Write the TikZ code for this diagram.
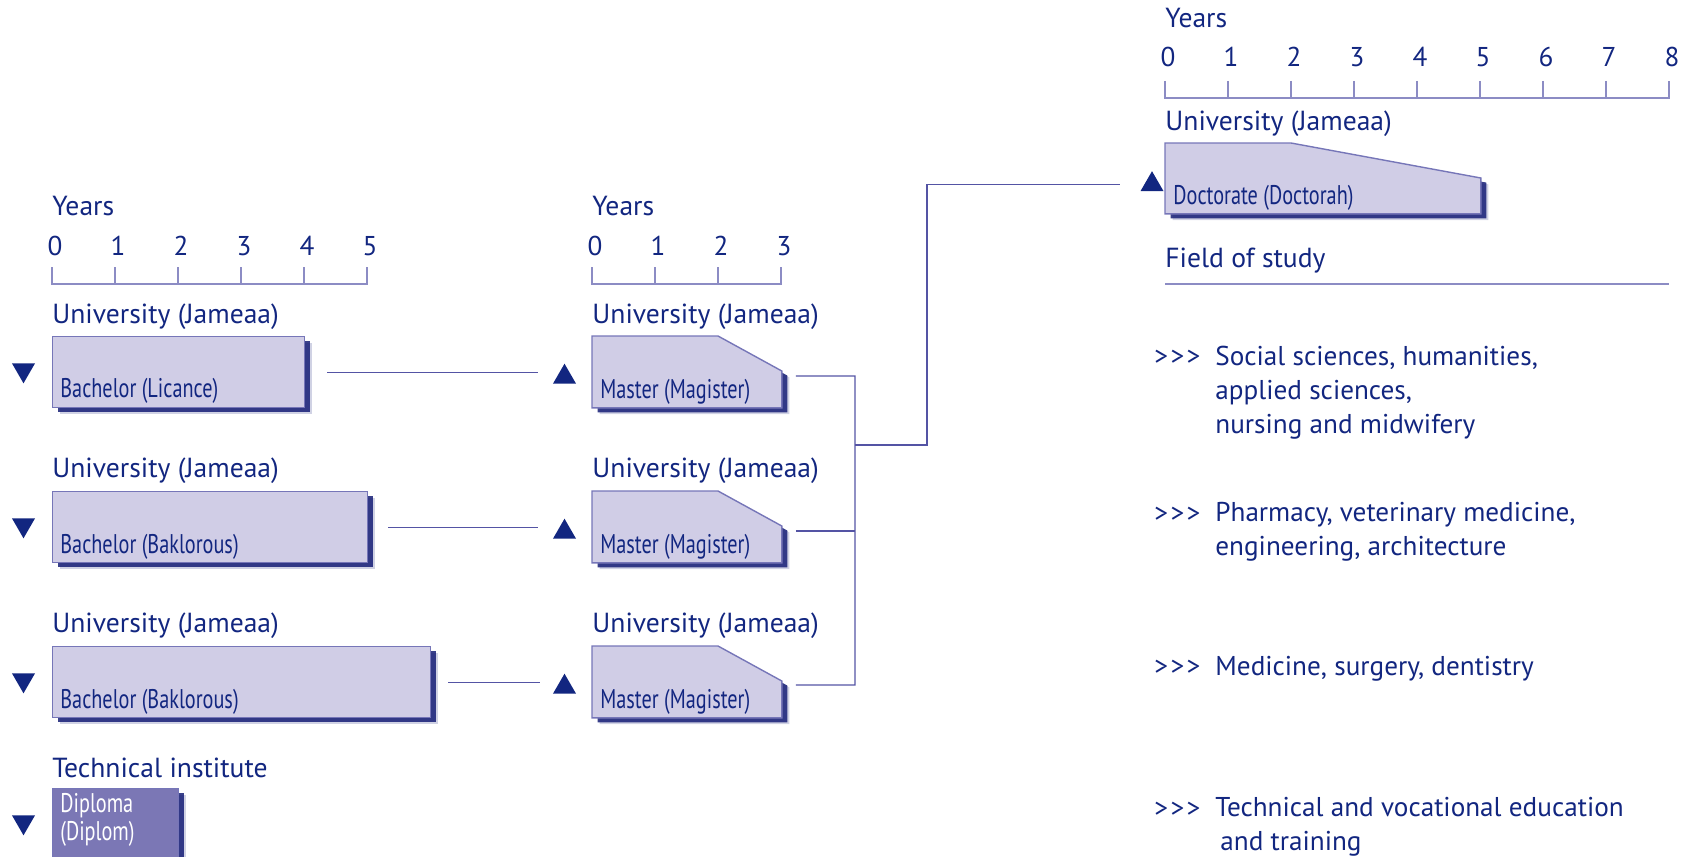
\documentclass[tikz,border=0pt]{standalone}
\usepackage{fontspec}
\setmainfont{PT Sans}
\newfontfamily\narrowfont[FakeStretch=0.75]{PT Sans}
\usetikzlibrary{shapes.geometric,shadows}

\definecolor{inkblue}{RGB}{18,38,128}
\definecolor{boxfill}{RGB}{208,205,230}
\definecolor{boxline}{RGB}{118,118,184}
\definecolor{diplfill}{RGB}{123,119,181}
\definecolor{shadowblue}{RGB}{22,30,118}
\definecolor{rulecol}{RGB}{140,140,196}
\definecolor{linkcol}{RGB}{84,84,164}

\newcommand{\arrs}{{>}\kern1.2pt{>}\kern1.2pt{>}}

\tikzset{
	lbl/.style={anchor=base west, inner sep=0pt, text=inkblue, font=\fontsize{13.8}{17}\selectfont},
	num/.style={anchor=base, inner sep=0pt, text=inkblue, font=\fontsize{13.6}{17}\selectfont},
	item/.style={anchor=base west, inner sep=0pt, text=inkblue, align=left, font=\fontsize{13.6}{17}\selectfont},
	boxtext/.style={anchor=base west, inner sep=0pt, text=inkblue, font=\narrowfont\fontsize{13.5}{14}\selectfont},
	degree/.style={fill=boxfill, draw=boxline, line width=0.7pt,
		drop shadow={shadow xshift=3.8pt, shadow yshift=-3.2pt, fill=shadowblue, opacity=0.2},
		drop shadow={shadow xshift=2.8pt, shadow yshift=-2.3pt, fill=shadowblue, opacity=0.85}},
	slot/.style={rectangle, anchor=north west, inner sep=0pt, draw=none},
	down/.style={regular polygon, regular polygon sides=3, shape border rotate=180, fill=inkblue, inner sep=0pt, minimum size=13.3pt},
	up/.style={regular polygon, regular polygon sides=3, fill=inkblue, inner sep=0pt, minimum size=13.3pt},
	link/.style={draw=linkcol, line width=0.6pt},
	ruler/.style={draw=rulecol, line width=0.8pt}
}

\begin{document}
\begin{tikzpicture}[x=0.5pt, y=-0.5pt]
	\useasboundingbox (0,0) rectangle (1690,856);

	% left block: bachelor
	\node[lbl] (years1) at (52,215) {Years};
	\draw[ruler] (52,267) -- (52,284) -- (367,284) -- (367,267)
		(115,267) -- (115,284) (178,267) -- (178,284) (241,267) -- (241,284) (304,267) -- (304,284);
	\node[num] (sa0) at (55,255) {0};
	\node[num] (sa1) at (118,255) {1};
	\node[num] (sa2) at (181,255) {2};
	\node[num] (sa3) at (244,255) {3};
	\node[num] (sa4) at (307,255) {4};
	\node[num] (sa5) at (370,255) {5};

	\node[lbl] (uni11) at (52,323) {University (Jameaa)};
	\node[lbl] (uni21) at (52,477) {University (Jameaa)};
	\node[lbl] (uni31) at (52,632) {University (Jameaa)};
	\node[lbl] (tech) at (52,777) {Technical institute};

	\node[slot, degree, minimum width=126pt, minimum height=35.5pt] (B1) at (52,336) {};
	\node[slot, degree, minimum width=157.5pt, minimum height=35.5pt] (B2) at (52,491) {};
	\node[slot, degree, minimum width=189pt, minimum height=35.5pt] (B3) at (52,646) {};
	\node[slot, degree, fill=diplfill, minimum width=63pt, minimum height=35.5pt] (D1) at (52,788) {};

	\node[boxtext] (b1txt) at (60,397) {Bachelor (Licance)};
	\node[boxtext] (b2txt) at (60,553) {Bachelor (Baklorous)};
	\node[boxtext] (b3txt) at (60,708) {Bachelor (Baklorous)};
	\node[boxtext, text=white] (d1txt) at (60,812) {Diploma};
	\node[boxtext, text=white] (d2txt) at (60,840) {(Diplom)};

	\node[down] (T1) at (23.5,370) {};
	\node[down] (T2) at (23.5,525) {};
	\node[down] (T3) at (23.5,680) {};
	\node[down] (T4) at (23.5,822) {};

	% middle block: master
	\node[lbl] (years2) at (592,215) {Years};
	\draw[ruler] (592,267) -- (592,284) -- (781,284) -- (781,267)
		(655,267) -- (655,284) (718,267) -- (718,284);
	\node[num] (sb0) at (595,255) {0};
	\node[num] (sb1) at (658,255) {1};
	\node[num] (sb2) at (721,255) {2};
	\node[num] (sb3) at (784,255) {3};

	\node[lbl] (uni12) at (592,323) {University (Jameaa)};
	\node[lbl] (uni22) at (592,477) {University (Jameaa)};
	\node[lbl] (uni32) at (592,632) {University (Jameaa)};

	\node[slot, minimum width=94.5pt, minimum height=35.5pt] (M1) at (592,336) {};
	\node[slot, minimum width=94.5pt, minimum height=35.5pt] (M2) at (592,491) {};
	\node[slot, minimum width=94.5pt, minimum height=35.5pt] (M3) at (592,646) {};
	\filldraw[degree] (M1.north west) -- ([xshift=63pt]M1.north west) -- ([yshift=-17.5pt]M1.north east) -- (M1.south east) -- (M1.south west) -- cycle;
	\filldraw[degree] (M2.north west) -- ([xshift=63pt]M2.north west) -- ([yshift=-17.5pt]M2.north east) -- (M2.south east) -- (M2.south west) -- cycle;
	\filldraw[degree] (M3.north west) -- ([xshift=63pt]M3.north west) -- ([yshift=-17.5pt]M3.north east) -- (M3.south east) -- (M3.south west) -- cycle;

	\node[boxtext] (m1txt) at (600,398) {Master (Magister)};
	\node[boxtext] (m2txt) at (600,553) {Master (Magister)};
	\node[boxtext] (m3txt) at (600,708) {Master (Magister)};

	\node[up] (U1) at (564.5,377) {};
	\node[up] (U2) at (564.5,532) {};
	\node[up] (U3) at (564.5,687) {};

	% right block: doctorate
	\node[lbl] (years3) at (1165,28) {Years};
	\draw[ruler] (1165,81) -- (1165,98) -- (1669,98) -- (1669,81)
		(1228,81) -- (1228,98) (1291,81) -- (1291,98) (1354,81) -- (1354,98) (1417,81) -- (1417,98)
		(1480,81) -- (1480,98) (1543,81) -- (1543,98) (1606,81) -- (1606,98);
	\node[num] (sc0) at (1168,67) {0};
	\node[num] (sc1) at (1231,67) {1};
	\node[num] (sc2) at (1294,67) {2};
	\node[num] (sc3) at (1357,67) {3};
	\node[num] (sc4) at (1420,67) {4};
	\node[num] (sc5) at (1483,67) {5};
	\node[num] (sc6) at (1546,67) {6};
	\node[num] (sc7) at (1609,67) {7};
	\node[num] (sc8) at (1672,67) {8};

	\node[lbl] (uni03) at (1165,131) {University (Jameaa)};
	\node[slot, minimum width=157.5pt, minimum height=35pt] (D0) at (1165,143) {};
	\filldraw[degree] (D0.north west) -- ([xshift=63pt]D0.north west) -- ([yshift=-17.5pt]D0.north east) -- (D0.south east) -- (D0.south west) -- cycle;
	\node[boxtext] (d0txt) at (1173,204) {Doctorate (Doctorah)};
	\node[up] (U0) at (1152,184.5) {};

	\node[lbl] (field) at (1165,267) {Field of study};
	\draw[ruler] (1165,284) -- (1669,284);

	% field items, base = last line
	\node[item] (ar1) at (1154,365) {\arrs};
	\node[item] (f1) at (1215,433) {Social sciences, humanities,\\applied sciences,\\nursing and midwifery};
	\node[item] (ar2) at (1154,522) {\arrs};
	\node[item] (f2) at (1215,555) {Pharmacy, veterinary medicine,\\engineering, architecture};
	\node[item] (ar3) at (1154,675) {\arrs};
	\node[item] (f3) at (1215,675) {Medicine, surgery, dentistry};
	\node[item] (ar4) at (1154,817) {\arrs};
	\node[item] (f4) at (1215,850) {Technical and vocational education\\\hspace{2.5pt}and training};

	% connectors
	\draw[link] ([xshift=11pt]B1.east) -- ([xshift=-9pt]U1.west |- B1.east);
	\draw[link] ([xshift=10pt]B2.east) -- ([xshift=-9pt]U2.west |- B2.east);
	\draw[link] ([xshift=8.5pt]B3.east) -- ([xshift=-8pt]U3.west |- B3.east);

	\coordinate (J1) at (855,376);
	\coordinate (J3) at (855,685);
	\coordinate (K1) at (855,445);
	\coordinate (K2) at (927,445);
	\draw[link] ([xshift=7pt,yshift=-2pt]M1.east) -- (J1) -- (J3) -- ([xshift=7pt]M3.east |- J3);
	\draw[link] ([xshift=7pt,yshift=-2pt]M2.east) -- ([yshift=-2pt]M2.east -| J1);
	\draw[link] (K1) -- (K2) -- (K2 |- U0.west) -- ([xshift=-12pt]U0.west);

\end{tikzpicture}
\end{document}
